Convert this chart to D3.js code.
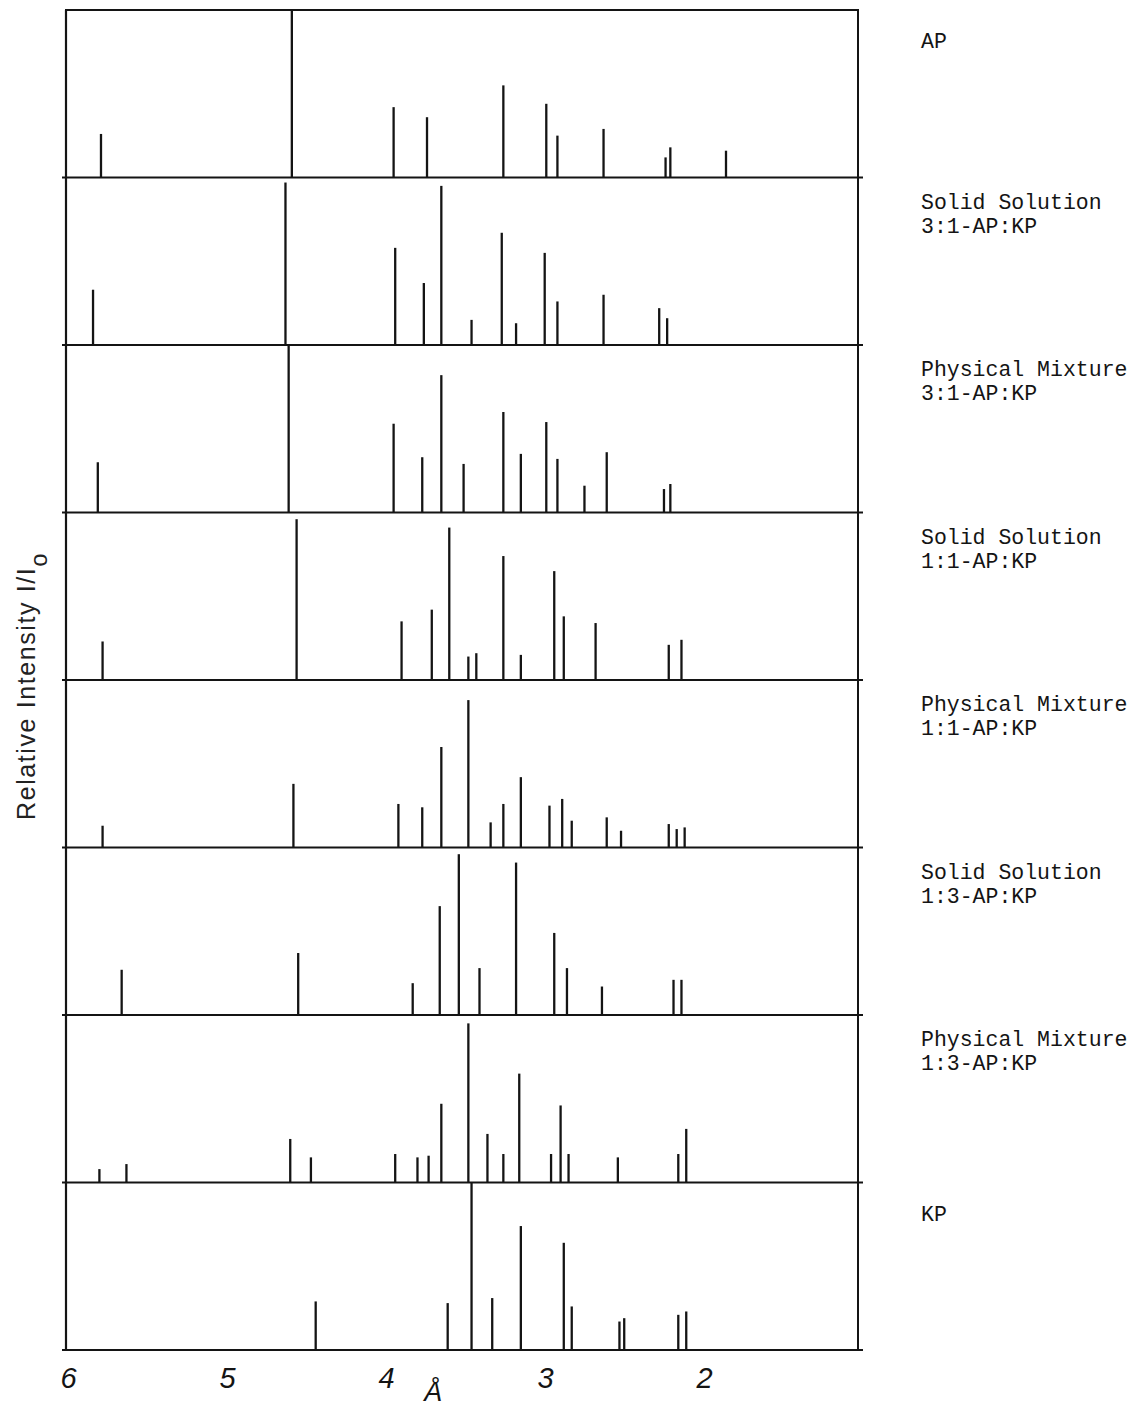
<!DOCTYPE html>
<html>
<head>
<meta charset="utf-8">
<script src="https://cdn.jsdelivr.net/npm/d3@7/dist/d3.min.js"></script>
<style>
  html, body { margin: 0; padding: 0; background: #fff; }
  svg { display: block; }
</style>
</head>
<body>
<svg id="chart" width="1143" height="1409"></svg>
<script>
// sample order, top to bottom
const sampleKeys = ["AP", "SS31", "PM31", "SS11", "PM11", "SS13", "PM13", "KP"];

const sampleLabels = [
  ["AP"],
  ["Solid Solution", "3:1-AP:KP"],
  ["Physical Mixture", "3:1-AP:KP"],
  ["Solid Solution", "1:1-AP:KP"],
  ["Physical Mixture", "1:1-AP:KP"],
  ["Solid Solution", "1:3-AP:KP"],
  ["Physical Mixture", "1:3-AP:KP"],
  ["KP"],
];

// d-spacings (Angstrom) and relative intensity (% of panel height)
const apD = [5.78, 4.58, 3.94, 3.73, 3.25, 2.98, 2.91, 2.62, 2.23, 2.2, 1.85];
const apI = [26, 100, 42, 36, 55, 44, 25, 29, 12, 18, 16];

const ss31D = [5.83, 4.62, 3.93, 3.75, 3.64, 3.45, 3.26, 3.17, 2.99, 2.91, 2.62, 2.27, 2.22];
const ss31I = [33, 97, 58, 37, 95, 15, 67, 13, 55, 26, 30, 22, 16];

const pm31D = [5.8, 4.6, 3.94, 3.76, 3.64, 3.5, 3.25, 3.14, 2.98, 2.91, 2.74, 2.6, 2.24, 2.2];
const pm31I = [30, 100, 53, 33, 82, 29, 60, 35, 54, 32, 16, 36, 14, 17];

const ss11D = [5.77, 4.55, 3.89, 3.7, 3.59, 3.47, 3.42, 3.25, 3.14, 2.93, 2.87, 2.67, 2.21, 2.13];
const ss11I = [23, 96, 35, 42, 91, 14, 16, 74, 15, 65, 38, 34, 21, 24];

const pm11D = [5.77, 4.57, 3.91, 3.76, 3.64, 3.47, 3.33, 3.25, 3.14, 2.96, 2.88, 2.82, 2.6, 2.51, 2.21, 2.16, 2.11];
const pm11I = [13, 38, 26, 24, 60, 88, 15, 26, 42, 25, 29, 16, 18, 10, 14, 11, 12];

const ss13D = [5.65, 4.54, 3.82, 3.65, 3.53, 3.4, 3.17, 2.93, 2.85, 2.63, 2.18, 2.13];
const ss13I = [27, 37, 19, 65, 96, 28, 91, 49, 28, 17, 21, 21];

const pm13D = [5.79, 5.62, 4.59, 4.46, 3.93, 3.79, 3.72, 3.64, 3.47, 3.35, 3.25, 3.15, 2.95, 2.89, 2.84, 2.53, 2.15, 2.1];
const pm13I = [8, 11, 26, 15, 17, 15, 16, 47, 95, 29, 17, 65, 17, 46, 17, 15, 17, 32];

const kpD = [4.43, 3.6, 3.45, 3.32, 3.14, 2.87, 2.82, 2.52, 2.49, 2.15, 2.1];
const kpI = [29, 28, 100, 31, 74, 64, 26, 17, 19, 21, 23];

const xTicks = [6, 5, 4, 3, 2];

const peakD = [apD, ss31D, pm31D, ss11D, pm11D, ss13D, pm13D, kpD];
const peakI = [apI, ss31I, pm31I, ss11I, pm11I, ss13I, pm13I, kpI];

const samples = sampleKeys.map((key, i) => ({
  key,
  label: sampleLabels[i],
  peaks: peakD[i].map((d, j) => ({ d, i: peakI[i][j] })),
}));

const svg = d3.select("#chart");
const ink = "#141414";

const plotLeft = 66;
const plotRight = 858;
const plotTop = 10;
const plotBottom = 1350;

const x = d3.scaleLinear().domain([6, 1.02]).range([plotLeft, plotRight]);
const band = d3.scaleBand().domain(sampleKeys).range([plotTop, plotBottom]);
const y = d3.scaleLinear().domain([0, 100]).range([band.bandwidth(), 0]);

// outer frame
svg.append("line")
  .attr("x1", plotLeft - 1).attr("x2", plotRight + 1)
  .attr("y1", plotTop).attr("y2", plotTop)
  .attr("stroke", ink).attr("stroke-width", 2.2);
svg.append("line")
  .attr("x1", plotLeft).attr("x2", plotLeft)
  .attr("y1", plotTop).attr("y2", plotBottom)
  .attr("stroke", ink).attr("stroke-width", 2.2);
svg.append("line")
  .attr("x1", plotRight).attr("x2", plotRight)
  .attr("y1", plotTop).attr("y2", plotBottom)
  .attr("stroke", ink).attr("stroke-width", 2);

const panel = svg.append("g")
  .selectAll("g")
  .data(samples)
  .join("g")
  .attr("transform", (d) => `translate(0,${band(d.key)})`);

// baselines, slightly overhanging the frame
panel.append("line")
  .attr("x1", plotLeft - 4)
  .attr("x2", plotRight + 5)
  .attr("y1", y(0))
  .attr("y2", y(0))
  .attr("stroke", ink)
  .attr("stroke-width", 2.2);

panel.selectAll(".peak")
  .data((d) => d.peaks)
  .join("line")
  .attr("class", "peak")
  .attr("x1", (p) => x(p.d))
  .attr("x2", (p) => x(p.d))
  .attr("y1", y(0))
  .attr("y2", (p) => y(p.i))
  .attr("stroke", ink)
  .attr("stroke-width", 2.3);

// sample names on the right (single-line names sit a little lower)
const labels = panel.append("text")
  .attr("x", 921)
  .attr("y", (d) => (d.label.length === 1 ? 38 : 31))
  .style("font-family", "'Liberation Mono', 'DejaVu Sans Mono', monospace")
  .style("font-size", "21.5px")
  .attr("fill", ink);

labels.selectAll("tspan")
  .data((d) => d.label)
  .join("tspan")
  .attr("x", 921)
  .attr("dy", (d, i) => (i === 0 ? 0 : 24))
  .text((d) => d);

// x axis: d-spacing
const xAxis = d3.axisBottom(x)
  .tickValues(xTicks)
  .tickSize(0)
  .tickPadding(0)
  .tickFormat(d3.format("d"));

svg.append("g")
  .attr("transform", `translate(0,${plotBottom + 17})`)
  .call(xAxis)
  .call((g) => g.select(".domain").remove())
  .call((g) =>
    g.selectAll(".tick text")
      .attr("dx", 2)
      .style("font-family", "'Liberation Sans', Arial, sans-serif")
      .style("font-style", "italic")
      .style("font-size", "29px")
      .attr("fill", ink)
  );

svg.append("text")
  .attr("x", x(3.69))
  .attr("y", 1401)
  .attr("text-anchor", "middle")
  .style("font-family", "'Liberation Sans', Arial, sans-serif")
  .style("font-style", "italic")
  .style("font-size", "27px")
  .attr("fill", ink)
  .text("Å");

// y axis title
const yTitle = svg.append("text")
  .attr("transform", "translate(35,820) rotate(-90)")
  .style("font-family", "'Liberation Sans', Arial, sans-serif")
  .style("font-size", "25px")
  .style("letter-spacing", "1.6px")
  .attr("fill", "#222");

yTitle.append("tspan").text("Relative Intensity I/I");
yTitle.append("tspan").attr("dy", 12).style("font-size", "24px").text("o");
</script>
</body>
</html>
